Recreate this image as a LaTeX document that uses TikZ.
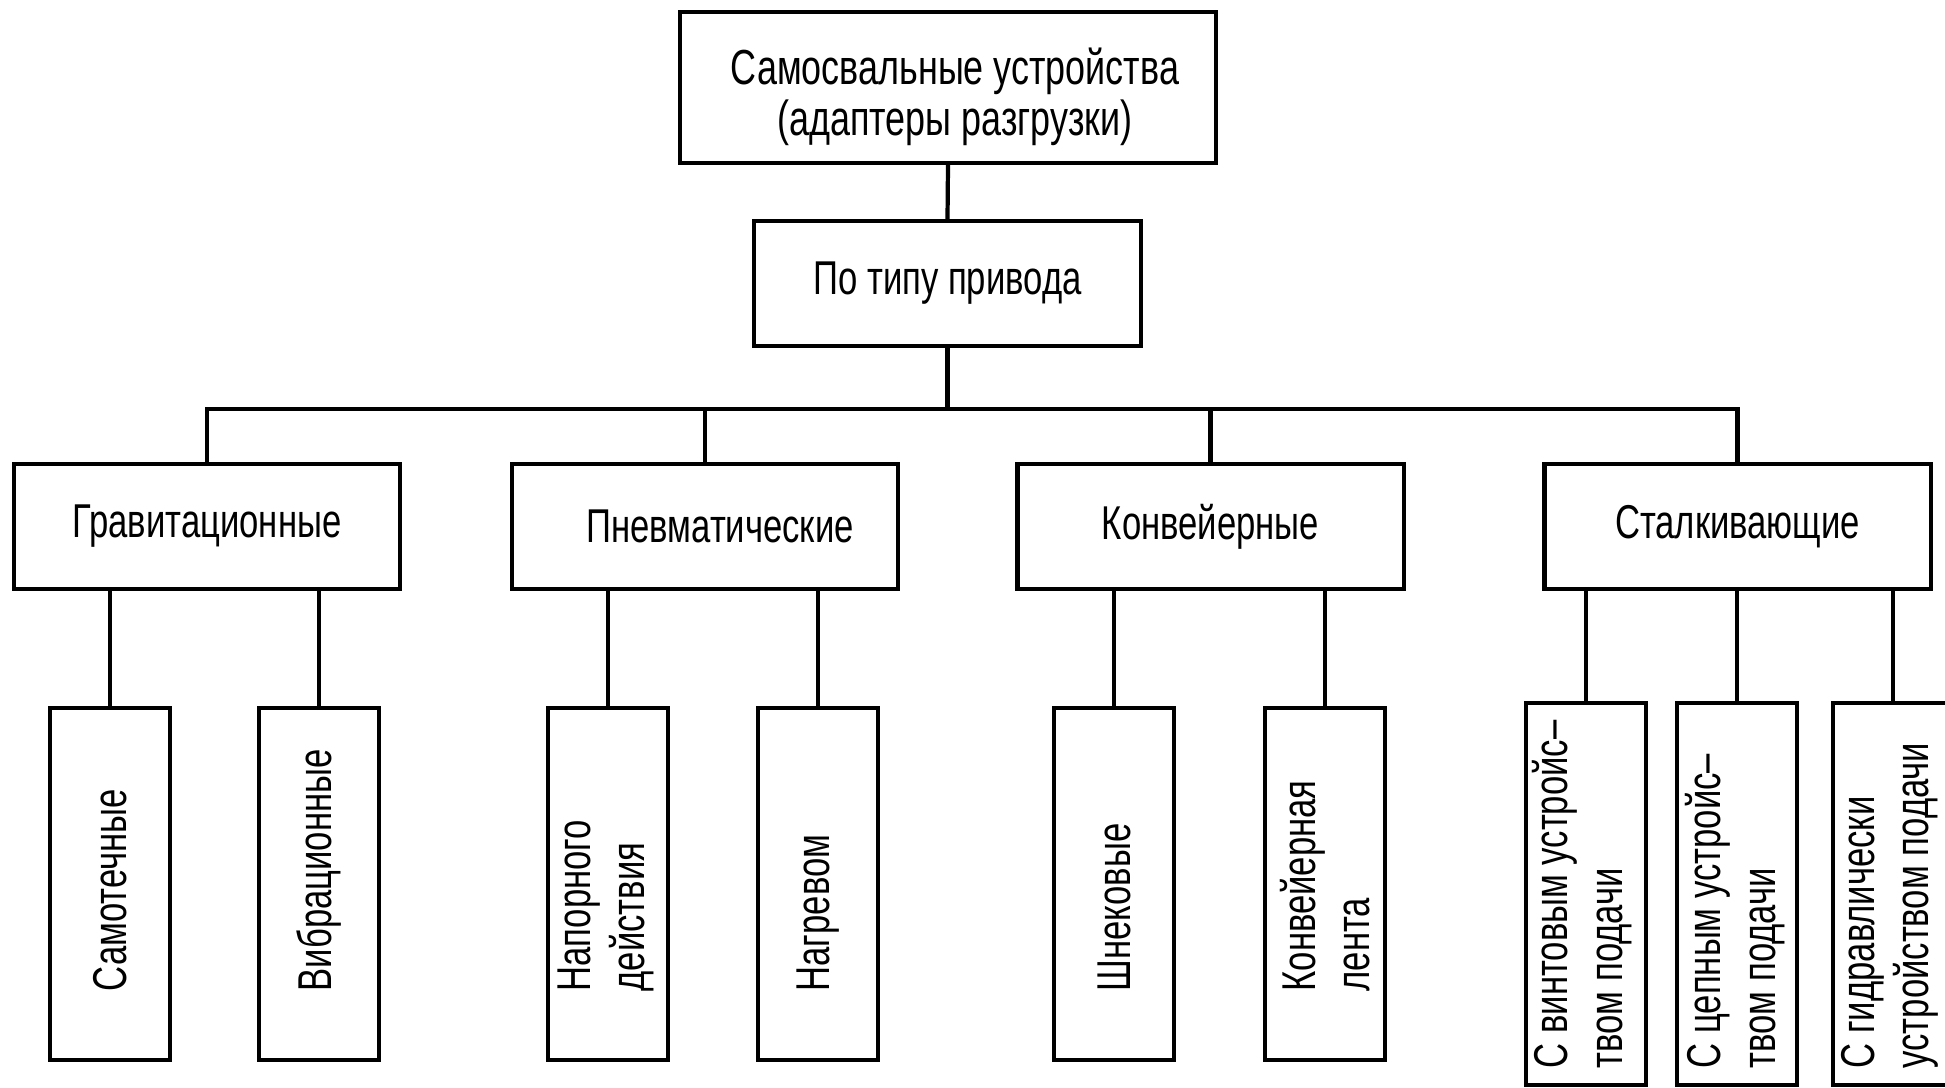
\documentclass[tikz,border=0pt]{standalone}
\usepackage{fontspec}
\setmainfont{Liberation Sans}[FakeStretch=0.73]
\begin{document}
\begin{tikzpicture}[x=0.01cm,y=-0.01cm,
  box/.style={draw=black,line width=1.2pt,fill=white,inner sep=0pt,align=center,
    font=\fontsize{13.5}{15.5}\selectfont},
  lvl2/.style={box,minimum width=3.86cm,minimum height=1.25cm},
  leaf/.style={draw=black,line width=1.2pt,inner sep=0pt,minimum width=1.2cm,minimum height=3.52cm},
  leafb/.style={draw=black,line width=1.2pt,inner sep=0pt,minimum width=1.2cm,minimum height=3.82cm},
  ltext/.style={rotate=90,anchor=west,inner sep=0pt,align=left,
    font=\fontsize{13.5}{15.5}\selectfont},
  conn/.style={line width=1.2pt}]
\useasboundingbox (0,0) rectangle (1945,1088);
\clip (0,0) rectangle (1945,1088);
\fill[white] (0,0) rectangle (1945,1088);

% top levels
\node[box,minimum width=5.36cm,minimum height=1.51cm] (top) at (948,87.5) {};
\node[inner sep=0pt,align=center,font=\fontsize{14}{14.5}\selectfont] (toptext) at (955,97)
  {Самосвальные устройства\\(адаптеры разгрузки)};
\node[box,minimum width=3.87cm,minimum height=1.25cm] (drive) at (947.5,283.5) {По типу привода};

% level 2
\node[lvl2] (grav) at (207,526.5) {Гравитационные};
\node[lvl2] (pneu) at (705,526.5) {\hspace*{0.3cm}Пневматические\raisebox{0.1cm}{}};
\node[lvl2] (conv) at (1210.5,526.5) {Конвейерные};
\node[lvl2] (stalk) at (1737.5,526.5) {Сталкивающие};

% level 3 boxes
\node[leaf] (l1) at (110,884) {};
\node[leaf] (l2) at (319,884) {};
\node[leaf] (l3) at (608,884) {};
\node[leaf] (l4) at (818,884) {};
\node[leaf] (l5) at (1114,884) {};
\node[leaf] (l6) at (1325,884) {};
\node[leafb] (l7) at (1586,894) {};
\node[leafb] (l8) at (1737,894) {};
\node[leafb] (l9) at (1893,894) {};

% level 3 texts
\node[ltext] (t1) at (110,992) {Самотечные};
\node[ltext] (t2) at (319,992) {Вибрационные};
\node[ltext] (t3) at (606,992) {Напорного\\действия};
\node[ltext] (t4) at (818,992) {Нагревом};
\node[ltext] (t5) at (1114,992) {Шнековые};
\node[ltext] (t6) at (1325,992) {Конвейерная\\лента};
\node[ltext] (t7) at (1582,1069) {С винтовым устройс–\\твом подачи};
\node[ltext] (t8) at (1735,1069) {С цепным устройс–\\твом подачи};
\node[ltext] (t9) at (1890,1069) {С гидравлически\\устройством подачи};

% connectors
\coordinate (bus) at (947.5,409);
\draw[conn] (top.south) -- (drive.north);
\draw[conn] (drive.south) -- (bus);
\draw[conn] (grav.north) |- (bus) -| (stalk.north);
\draw[conn] (pneu.north) -- (pneu.north |- bus);
\draw[conn] (conv.north) -- (conv.north |- bus);

\draw[conn] (grav.south -| l1.north) -- (l1.north);
\draw[conn] (grav.south -| l2.north) -- (l2.north);
\draw[conn] (pneu.south -| l3.north) -- (l3.north);
\draw[conn] (pneu.south -| l4.north) -- (l4.north);
\draw[conn] (conv.south -| l5.north) -- (l5.north);
\draw[conn] (conv.south -| l6.north) -- (l6.north);
\draw[conn] (stalk.south -| l7.north) -- (l7.north);
\draw[conn] (stalk.south -| l8.north) -- (l8.north);
\draw[conn] (stalk.south -| l9.north) -- (l9.north);
\end{tikzpicture}
\end{document}
